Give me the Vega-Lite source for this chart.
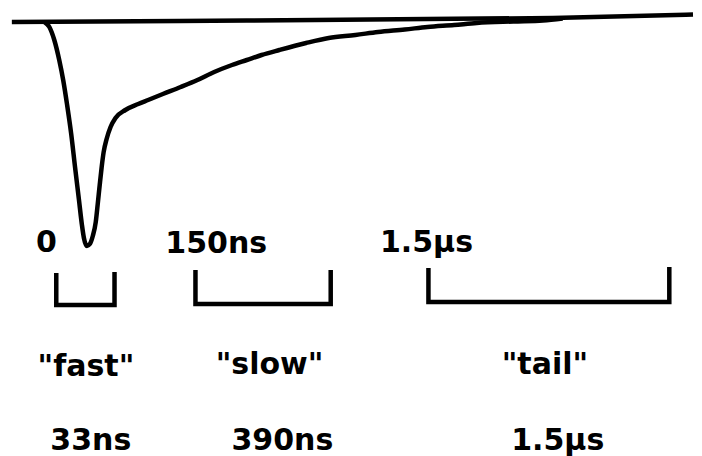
{
  "$schema": "https://vega.github.io/schema/vega-lite/v6.json",
  "width": 702,
  "height": 456,
  "autosize": {"type": "fit", "contains": "padding"},
  "padding": 0,
  "background": "white",
  "config": {"view": {"stroke": null}},
  "datasets": {
    "lines": [
      {"s": "baseline", "i": 0, "x": 12, "y": 22},
      {"s": "baseline", "i": 1, "x": 250, "y": 20.5},
      {"s": "baseline", "i": 2, "x": 560, "y": 18},
      {"s": "baseline", "i": 3, "x": 702, "y": 14.5},
      {"s": "pulse", "i": 0, "x": 45, "y": 22},
      {"s": "pulse", "i": 1, "x": 50, "y": 27},
      {"s": "pulse", "i": 2, "x": 55, "y": 40},
      {"s": "pulse", "i": 3, "x": 60, "y": 60},
      {"s": "pulse", "i": 4, "x": 64, "y": 80},
      {"s": "pulse", "i": 5, "x": 68, "y": 105},
      {"s": "pulse", "i": 6, "x": 72, "y": 133},
      {"s": "pulse", "i": 7, "x": 76, "y": 167},
      {"s": "pulse", "i": 8, "x": 80, "y": 200},
      {"s": "pulse", "i": 9, "x": 83, "y": 225},
      {"s": "pulse", "i": 10, "x": 85, "y": 238},
      {"s": "pulse", "i": 11, "x": 88, "y": 246},
      {"s": "pulse", "i": 12, "x": 91, "y": 244},
      {"s": "pulse", "i": 13, "x": 94, "y": 236},
      {"s": "pulse", "i": 14, "x": 97, "y": 222},
      {"s": "pulse", "i": 15, "x": 99, "y": 204},
      {"s": "pulse", "i": 16, "x": 101, "y": 185},
      {"s": "pulse", "i": 17, "x": 103, "y": 167},
      {"s": "pulse", "i": 18, "x": 105, "y": 152},
      {"s": "pulse", "i": 19, "x": 108, "y": 139},
      {"s": "pulse", "i": 20, "x": 112, "y": 127},
      {"s": "pulse", "i": 21, "x": 117, "y": 118},
      {"s": "pulse", "i": 22, "x": 127, "y": 110},
      {"s": "pulse", "i": 23, "x": 140, "y": 104},
      {"s": "pulse", "i": 24, "x": 150, "y": 100},
      {"s": "pulse", "i": 25, "x": 165, "y": 94},
      {"s": "pulse", "i": 26, "x": 183, "y": 87},
      {"s": "pulse", "i": 27, "x": 200, "y": 80},
      {"s": "pulse", "i": 28, "x": 217, "y": 72},
      {"s": "pulse", "i": 29, "x": 235, "y": 65},
      {"s": "pulse", "i": 30, "x": 250, "y": 60},
      {"s": "pulse", "i": 31, "x": 265, "y": 55},
      {"s": "pulse", "i": 32, "x": 283, "y": 50},
      {"s": "pulse", "i": 33, "x": 310, "y": 43},
      {"s": "pulse", "i": 34, "x": 333, "y": 38},
      {"s": "pulse", "i": 35, "x": 360, "y": 35},
      {"s": "pulse", "i": 36, "x": 383, "y": 32},
      {"s": "pulse", "i": 37, "x": 410, "y": 29.5},
      {"s": "pulse", "i": 38, "x": 433, "y": 27},
      {"s": "pulse", "i": 39, "x": 460, "y": 25},
      {"s": "pulse", "i": 40, "x": 483, "y": 23},
      {"s": "pulse", "i": 41, "x": 520, "y": 21.5},
      {"s": "pulse", "i": 42, "x": 550, "y": 20.5},
      {"s": "pulse", "i": 43, "x": 570, "y": 18.5},
      {"s": "fast", "i": 0, "x": 57, "y": 273},
      {"s": "fast", "i": 1, "x": 57, "y": 305},
      {"s": "fast", "i": 2, "x": 116, "y": 305},
      {"s": "fast", "i": 3, "x": 116, "y": 272},
      {"s": "slow", "i": 0, "x": 198, "y": 270},
      {"s": "slow", "i": 1, "x": 198, "y": 304},
      {"s": "slow", "i": 2, "x": 335, "y": 304},
      {"s": "slow", "i": 3, "x": 335, "y": 270},
      {"s": "tail", "i": 0, "x": 434, "y": 268},
      {"s": "tail", "i": 1, "x": 434, "y": 302},
      {"s": "tail", "i": 2, "x": 678, "y": 302},
      {"s": "tail", "i": 3, "x": 678, "y": 267}
    ],
    "labels": [
      {"t": "0", "x": 47, "y": 252},
      {"t": "150ns", "x": 219, "y": 253},
      {"t": "1.5µs", "x": 432, "y": 252},
      {"t": "\"fast\"", "x": 87, "y": 376},
      {"t": "\"slow\"", "x": 273, "y": 374},
      {"t": "\"tail\"", "x": 552, "y": 374},
      {"t": "33ns", "x": 92, "y": 450},
      {"t": "390ns", "x": 286, "y": 450},
      {"t": "1.5µs", "x": 565, "y": 450}
    ]
  },
  "layer": [
    {
      "data": {"name": "lines"},
      "mark": {"type": "line", "color": "black", "strokeWidth": 4.5, "interpolate": "monotone", "strokeCap": "butt", "strokeJoin": "miter"},
      "encoding": {
        "x": {"field": "x", "type": "quantitative", "scale": {"domain": [0, 702], "nice": false, "zero": false}, "axis": null},
        "y": {"field": "y", "type": "quantitative", "scale": {"domain": [0, 456], "nice": false, "zero": false, "reverse": true}, "axis": null},
        "detail": {"field": "s", "type": "nominal"},
        "order": {"field": "i", "type": "quantitative"}
      }
    },
    {
      "data": {"name": "labels"},
      "mark": {"type": "text", "font": "DejaVu Sans", "fontWeight": "bold", "fontSize": 30, "align": "center", "baseline": "alphabetic", "color": "black"},
      "encoding": {
        "x": {"field": "x", "type": "quantitative", "axis": null},
        "y": {"field": "y", "type": "quantitative", "axis": null},
        "text": {"field": "t", "type": "nominal"}
      }
    }
  ]
}
